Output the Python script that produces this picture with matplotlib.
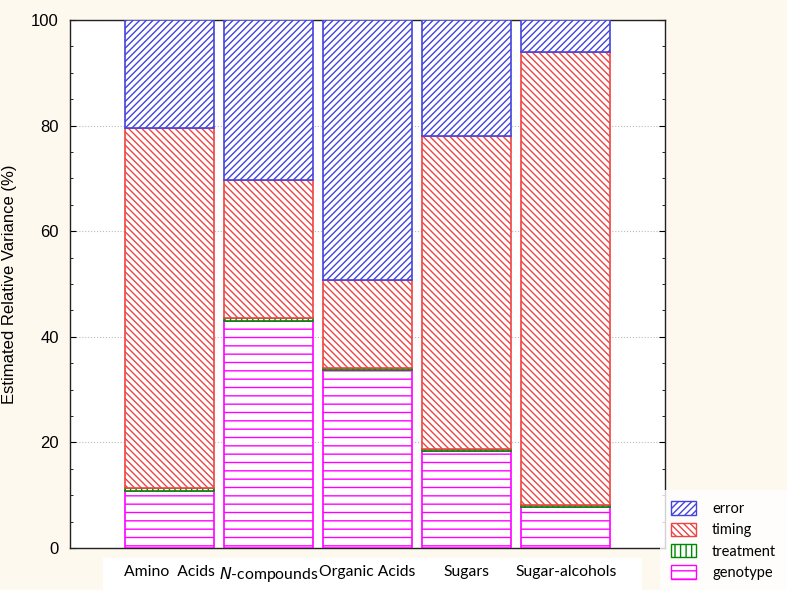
import matplotlib
matplotlib.use('Agg')
import matplotlib.pyplot as plt
from matplotlib.patches import Patch, Rectangle
import numpy as np

plt.rcParams['hatch.linewidth'] = 1.0

# 数据：各组分的估计相对方差 (%)
categories = ['Amino  Acids', '$N$-compounds', 'Organic Acids', 'Sugars', 'Sugar-alcohols']
genotype = [10.8, 43.0, 33.7, 18.4, 7.8]
treatment = [0.6, 0.5, 0.3, 0.3, 0.3]
timing = [68.1, 26.2, 16.8, 59.3, 85.9]
error = [20.5, 30.3, 49.2, 22.0, 6.0]

series_names = ['genotype', 'treatment', 'timing', 'error']
series_vals = [genotype, treatment, timing, error]
series_col = ['#ff00ff', '#008800', '#ee4444', '#4444dd']
series_hatch = ['--', '|||', '\\\\\\\\\\', '/////']

bg = '#fdf9ef'
fig = plt.figure(figsize=(7.87, 5.9), dpi=100, facecolor=bg)
ax = fig.add_axes([70/787, 1-548/590, 595/787, 528/590])
ax.set_facecolor('white')

# 标签底下那块白底
fig.patches.append(Rectangle((103/787, 0), (642-103)/787, 32/590,
                             transform=fig.transFigure, facecolor='white',
                             edgecolor='none', zorder=-1))

x = np.arange(len(categories))
bottom = np.zeros(len(categories))
for name, vals, col, h in zip(series_names, series_vals, series_col, series_hatch):
    ax.bar(x, vals, 0.9, bottom=bottom, facecolor='white', edgecolor=col,
           hatch=h, linewidth=1.2, zorder=3)
    bottom += np.array(vals)

ax.set_xlim(-1, 5)
ax.set_ylim(0, 100)
ax.set_yticks(np.arange(0, 101, 20))
ax.set_yticks(np.arange(0, 101, 5), minor=True)
ax.set_xticks(x)
ax.set_xticklabels(categories, fontsize=11.3, family=['Lato', 'DejaVu Sans'])
ax.tick_params(axis='y', which='both', direction='in', right=True, labelsize=12,
               pad=8)
ax.tick_params(axis='y', which='major', length=4)
ax.tick_params(axis='y', which='minor', length=2.5)
ax.tick_params(axis='x', direction='in', length=3, pad=12)
for lab in ax.get_yticklabels():
    lab.set_family('Liberation Sans')
ax.grid(axis='y', which='major', color='#bbbbbb', linestyle=':', linewidth=0.8, zorder=1)
for s in ax.spines.values():
    s.set_linewidth(1.0)
    s.set_color('#222222')

ax.set_ylabel('Estimated Relative Variance (%)', fontsize=12, family='Liberation Sans',
              labelpad=10)

# 图例：倒序排列
handles = [Patch(facecolor='white', edgecolor=c, hatch=h, label=n)
           for n, c, h in zip(series_names, series_col, series_hatch)][::-1]
leg = fig.legend(handles=handles, loc='upper left',
                 bbox_to_anchor=(664/787, 1-494/590), frameon=True,
                 fontsize=10.5, handlelength=1.7, handleheight=1.05,
                 handletextpad=1.1, labelspacing=0.45, borderpad=0.5,
                 borderaxespad=0)
leg.get_frame().set_facecolor('white')
leg.get_frame().set_edgecolor('none')
leg.get_frame().set_boxstyle('square')
for t in leg.get_texts():
    t.set_family(['Lato', 'DejaVu Sans'])

fig.savefig('out.png', dpi=100, facecolor=bg)
